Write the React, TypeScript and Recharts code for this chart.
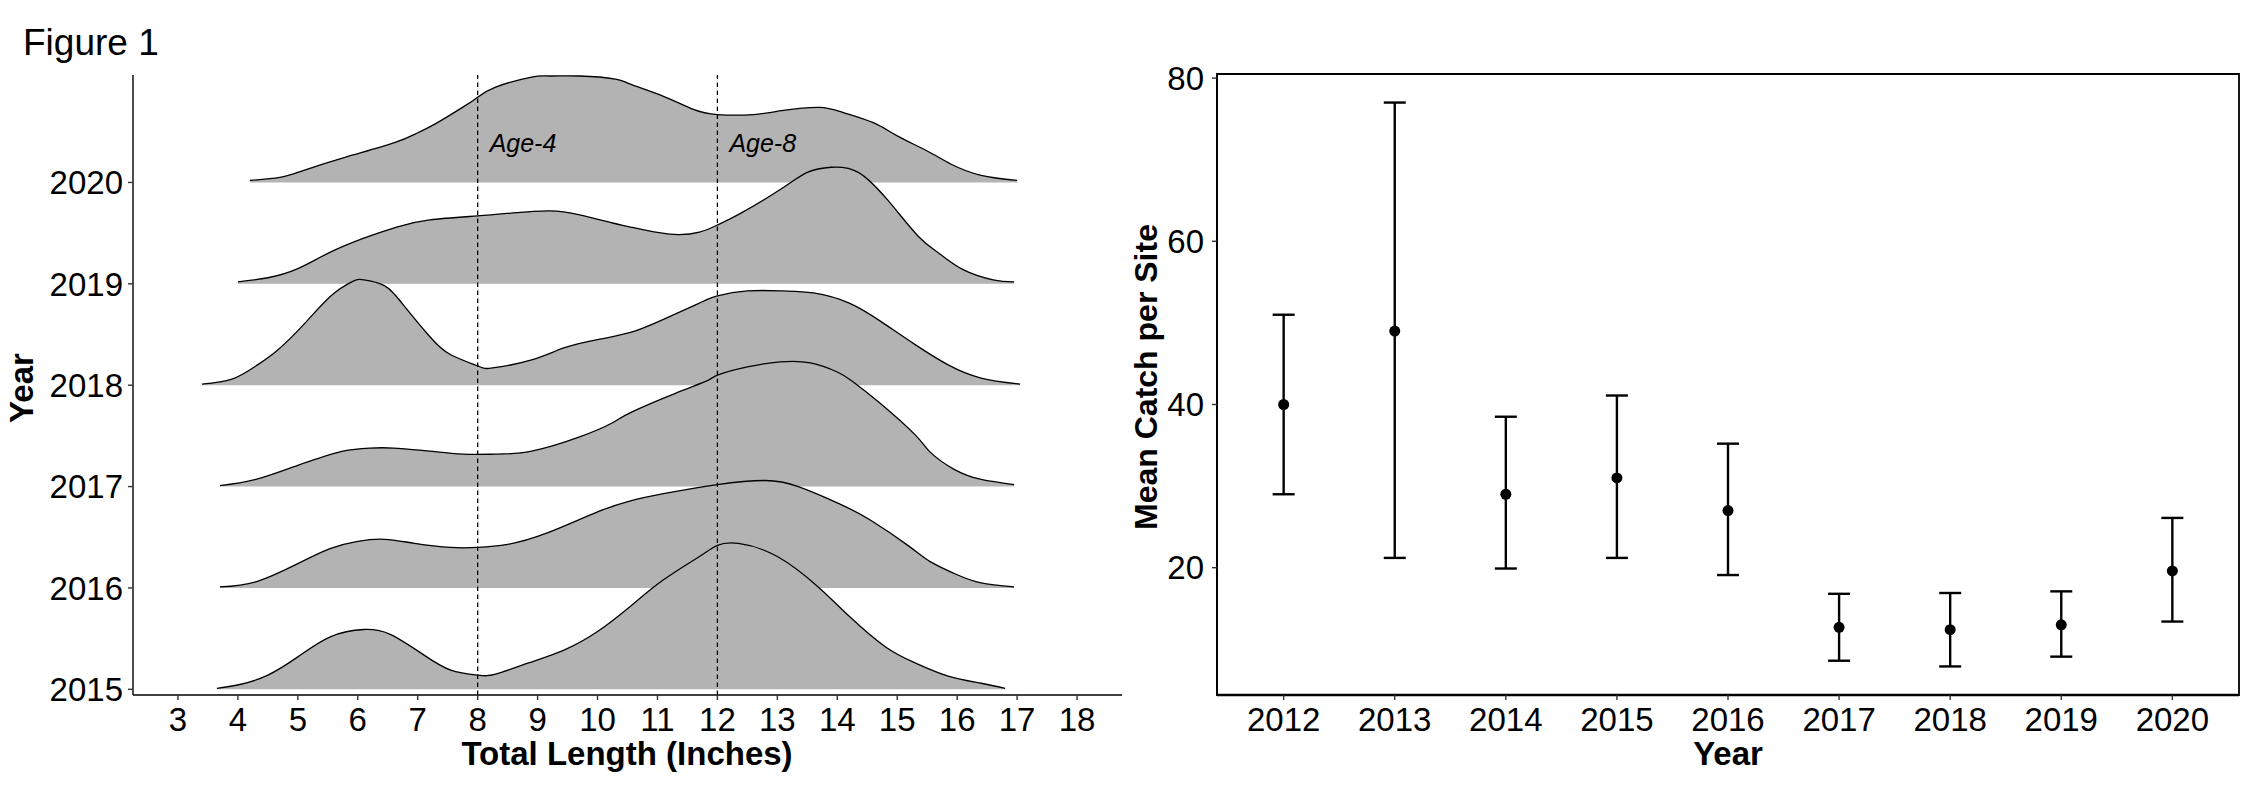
import React from 'react';
import {
  ComposedChart,
  Area,
  Line,
  XAxis,
  YAxis,
  ReferenceLine,
  ReferenceDot,
  ReferenceArea,
  Scatter,
  ErrorBar,
} from 'recharts';

const FONT = "'Liberation Sans', Arial, Helvetica, sans-serif";

// ---- Left panel: length-frequency ridges (density height in row units) ----
const RIDGE_YEARS = [2015, 2016, 2017, 2018, 2019, 2020];
const LENGTH_TICKS = [3, 4, 5, 6, 7, 8, 9, 10, 11, 12, 13, 14, 15, 16, 17, 18];
const AGE_LINES = [8, 12];
const AGE_LABELS = ['Age-4', 'Age-8'];
const AGE_LABEL_X = [8.2, 12.2];
const AGE_LABEL_Y = 2020.3;

const L2020 = [4.2, 4.7, 5.1, 5.8, 6.6, 7.0, 7.3, 7.8, 8.0, 8.3, 8.9, 9.2, 9.7, 10.3, 10.55, 11.1, 11.6, 12.0, 12.6, 13.1, 13.7, 14.1, 14.6, 15.0, 15.5, 15.9, 16.4, 17.0];
const D2020 = [0.02, 0.05, 0.12, 0.25, 0.39, 0.49, 0.58, 0.76, 0.84, 0.94, 1.04, 1.05, 1.05, 1.02, 0.97, 0.85, 0.72, 0.67, 0.67, 0.71, 0.74, 0.69, 0.59, 0.46, 0.31, 0.18, 0.07, 0.02];

const L2019 = [4.0, 4.5, 5.0, 5.5, 6.1, 6.65, 7.2, 8.0, 8.6, 9.2, 9.7, 10.25, 10.55, 11.2, 11.7, 12.0, 12.4, 13.1, 13.5, 13.9, 14.35, 14.85, 15.35, 15.7, 16.1, 16.6, 16.95];
const D2019 = [0.02, 0.06, 0.15, 0.3, 0.45, 0.56, 0.63, 0.67, 0.7, 0.72, 0.68, 0.6, 0.56, 0.49, 0.51, 0.58, 0.7, 0.95, 1.1, 1.15, 1.1, 0.82, 0.47, 0.3, 0.14, 0.04, 0.02];

const L2018 = [3.4, 3.9, 4.3, 4.65, 5.1, 5.55, 5.9, 6.1, 6.45, 6.75, 7.2, 7.55, 8.0, 8.25, 8.9, 9.45, 10.0, 10.55, 11.1, 11.7, 12.0, 12.5, 13.1, 13.6, 14.2, 14.75, 15.3, 15.85, 16.4, 17.05];
const D2018 = [0.01, 0.06, 0.19, 0.34, 0.6, 0.88, 1.02, 1.04, 0.98, 0.8, 0.48, 0.3, 0.19, 0.17, 0.25, 0.37, 0.45, 0.52, 0.65, 0.81, 0.88, 0.93, 0.93, 0.91, 0.81, 0.62, 0.4, 0.2, 0.07, 0.01];

const L2017 = [3.7, 4.3, 5.0, 5.3, 5.75, 6.2, 6.6, 7.2, 7.75, 8.3, 8.9, 9.7, 10.25, 10.55, 11.3, 11.85, 12.0, 12.5, 13.05, 13.55, 14.0, 14.25, 14.7, 15.3, 15.55, 15.95, 16.4, 16.95];
const D2017 = [0.01, 0.07, 0.21, 0.27, 0.35, 0.38, 0.38, 0.35, 0.32, 0.32, 0.35, 0.49, 0.63, 0.73, 0.92, 1.05, 1.1, 1.18, 1.23, 1.22, 1.13, 1.04, 0.83, 0.51, 0.34, 0.17, 0.07, 0.02];

const L2016 = [3.7, 4.3, 5.0, 5.55, 6.0, 6.45, 6.95, 7.55, 8.0, 8.5, 9.15, 10.0, 10.55, 11.1, 12.0, 12.8, 13.35, 14.0, 14.55, 15.2, 15.55, 16.0, 16.4, 16.95];
const D2016 = [0.01, 0.06, 0.24, 0.39, 0.46, 0.48, 0.44, 0.4, 0.4, 0.43, 0.54, 0.75, 0.86, 0.93, 1.02, 1.06, 1.0, 0.84, 0.67, 0.41, 0.26, 0.13, 0.05, 0.01];

const L2015 = [3.65, 4.05, 4.5, 5.0, 5.55, 6.1, 6.55, 7.1, 7.55, 8.0, 8.3, 8.85, 9.45, 10.0, 10.55, 11.1, 11.7, 12.0, 12.35, 13.0, 13.7, 14.2, 14.8, 15.3, 15.85, 16.4, 16.8];
const D2015 = [0.01, 0.05, 0.14, 0.32, 0.52, 0.59, 0.54, 0.34, 0.19, 0.14, 0.15, 0.26, 0.39, 0.57, 0.82, 1.08, 1.31, 1.42, 1.44, 1.31, 1.0, 0.72, 0.42, 0.26, 0.13, 0.06, 0.01];

// drawn top row first so lower ridges sit in front
const RIDGES = [
  { year: 2020, len: L2020, den: D2020 },
  { year: 2019, len: L2019, den: D2019 },
  { year: 2018, len: L2018, den: D2018 },
  { year: 2017, len: L2017, den: D2017 },
  { year: 2016, len: L2016, den: D2016 },
  { year: 2015, len: L2015, den: D2015 },
];

// ---- Right panel: mean catch per site with intervals ----
const CATCH_YEARS = [2012, 2013, 2014, 2015, 2016, 2017, 2018, 2019, 2020];
const CATCH_MEAN = [40.0, 49.0, 29.0, 31.0, 27.0, 12.7, 12.4, 13.0, 19.6];
const CATCH_LOWER = [29.0, 21.2, 19.9, 21.2, 19.1, 8.6, 7.9, 9.1, 13.4];
const CATCH_UPPER = [51.0, 77.0, 38.5, 41.1, 35.2, 16.8, 16.9, 17.1, 26.1];
const CATCH_TICKS = [20, 40, 60, 80];

const ridgeTable = (year: number, len: number[], den: number[]) =>
  len.map((x, i) => ({ x, band: [year, year + den[i]], top: year + den[i] }));

const catchTable = CATCH_YEARS.map((year, i) => ({
  year,
  mean: CATCH_MEAN[i],
  err: [CATCH_MEAN[i] - CATCH_LOWER[i], CATCH_UPPER[i] - CATCH_MEAN[i]],
}));

const tickStyle = { fontSize: 33, fill: '#000', fontFamily: FONT };

const ageLabel = (text: string) => (props: any) => (
  <text
    x={props.cx}
    y={props.cy}
    fontSize={25}
    fontStyle="italic"
    fontFamily={FONT}
    fill="#000"
    textAnchor="start"
  >
    {text}
  </text>
);

const meanDot = (props: any) => <circle cx={props.cx} cy={props.cy} r={5.5} fill="#000" />;

function RidgePanel() {
  return (
    <ComposedChart width={1150} height={805} margin={{ top: 75, right: 28, bottom: 50, left: 33 }}>
      <XAxis
        type="number"
        dataKey="x"
        domain={[2.25, 18.75]}
        ticks={LENGTH_TICKS}
        interval={0}
        allowDataOverflow
        height={60}
        tick={tickStyle}
        tickSize={5}
        tickMargin={8}
        axisLine={{ stroke: '#000', strokeWidth: 1.6 }}
        tickLine={{ stroke: '#333', strokeWidth: 1.4 }}
      />
      <YAxis
        type="number"
        domain={[2014.944, 2021.06]}
        ticks={RIDGE_YEARS}
        interval={0}
        allowDataOverflow
        width={100}
        tick={tickStyle}
        tickSize={5}
        tickMargin={5}
        axisLine={{ stroke: '#000', strokeWidth: 1.4 }}
        tickLine={{ stroke: '#333', strokeWidth: 1.4 }}
      />
      {RIDGES.map((r) => {
        const rows = ridgeTable(r.year, r.len, r.den);
        return [
          <Area
            key={`a${r.year}`}
            data={rows}
            dataKey="band"
            type="natural"
            fill="#b3b3b3"
            fillOpacity={1}
            stroke="none"
            isAnimationActive={false}
          />,
          <Line
            key={`l${r.year}`}
            data={rows}
            dataKey="top"
            type="natural"
            stroke="#000"
            strokeWidth={1.3}
            dot={false}
            activeDot={false}
            isAnimationActive={false}
          />,
        ];
      })}
      {AGE_LINES.map((x) => (
        <ReferenceLine key={x} x={x} stroke="#000" strokeWidth={1.3} strokeDasharray="4.5 3.5" />
      ))}
      {AGE_LABELS.map((t, i) => (
        <ReferenceDot key={t} x={AGE_LABEL_X[i]} y={AGE_LABEL_Y} r={0} shape={ageLabel(t)} />
      ))}
    </ComposedChart>
  );
}

function CatchPanel() {
  return (
    <ComposedChart width={1100} height={805} margin={{ top: 74, right: 11, bottom: 50, left: 7 }}>
      <XAxis
        type="number"
        dataKey="year"
        domain={[2011.4, 2020.6]}
        ticks={CATCH_YEARS}
        interval={0}
        allowDataOverflow
        height={60}
        tick={tickStyle}
        tickSize={5}
        tickMargin={8}
        axisLine={{ stroke: '#000', strokeWidth: 2.6 }}
        tickLine={{ stroke: '#333', strokeWidth: 1.4 }}
      />
      <YAxis
        type="number"
        dataKey="mean"
        domain={[4.4, 80.5]}
        ticks={CATCH_TICKS}
        interval={0}
        allowDataOverflow
        width={60}
        tick={tickStyle}
        tickSize={5}
        tickMargin={8}
        axisLine={{ stroke: '#000', strokeWidth: 2 }}
        tickLine={{ stroke: '#333', strokeWidth: 1.4 }}
      />
      <ReferenceArea
        x1={2011.4}
        x2={2020.6}
        y1={4.4}
        y2={80.5}
        fill="none"
        fillOpacity={0}
        stroke="#000"
        strokeWidth={1.8}
      />
      <Scatter data={catchTable} dataKey="mean" shape={meanDot} isAnimationActive={false}>
        <ErrorBar dataKey="err" direction="y" width={11} stroke="#000" strokeWidth={2.4} />
      </Scatter>
    </ComposedChart>
  );
}

export default function App() {
  return (
    <div style={{ position: 'absolute', left: 0, top: 0, width: 2250, height: 805, background: '#fff' }}>
      <div style={{ position: 'absolute', left: 0, top: 0 }}>
        <RidgePanel />
      </div>
      <div style={{ position: 'absolute', left: 1150, top: 0 }}>
        <CatchPanel />
      </div>
      <svg
        width={2250}
        height={805}
        style={{ position: 'absolute', left: 0, top: 0, pointerEvents: 'none' }}
        fontFamily={FONT}
      >
        <text x={23} y={55} fontSize={37} fill="#000">
          Figure 1
        </text>
        <text x={627} y={765} fontSize={33} fontWeight="bold" textAnchor="middle" fill="#000">
          Total Length (Inches)
        </text>
        <text x={1728} y={765} fontSize={33} fontWeight="bold" textAnchor="middle" fill="#000">
          Year
        </text>
        <text
          transform="translate(33,388) rotate(-90)"
          fontSize={33}
          fontWeight="bold"
          textAnchor="middle"
          fill="#000"
        >
          Year
        </text>
        <text
          transform="translate(1157,377) rotate(-90)"
          fontSize={32}
          fontWeight="bold"
          textAnchor="middle"
          fill="#000"
        >
          Mean Catch per Site
        </text>
      </svg>
    </div>
  );
}
